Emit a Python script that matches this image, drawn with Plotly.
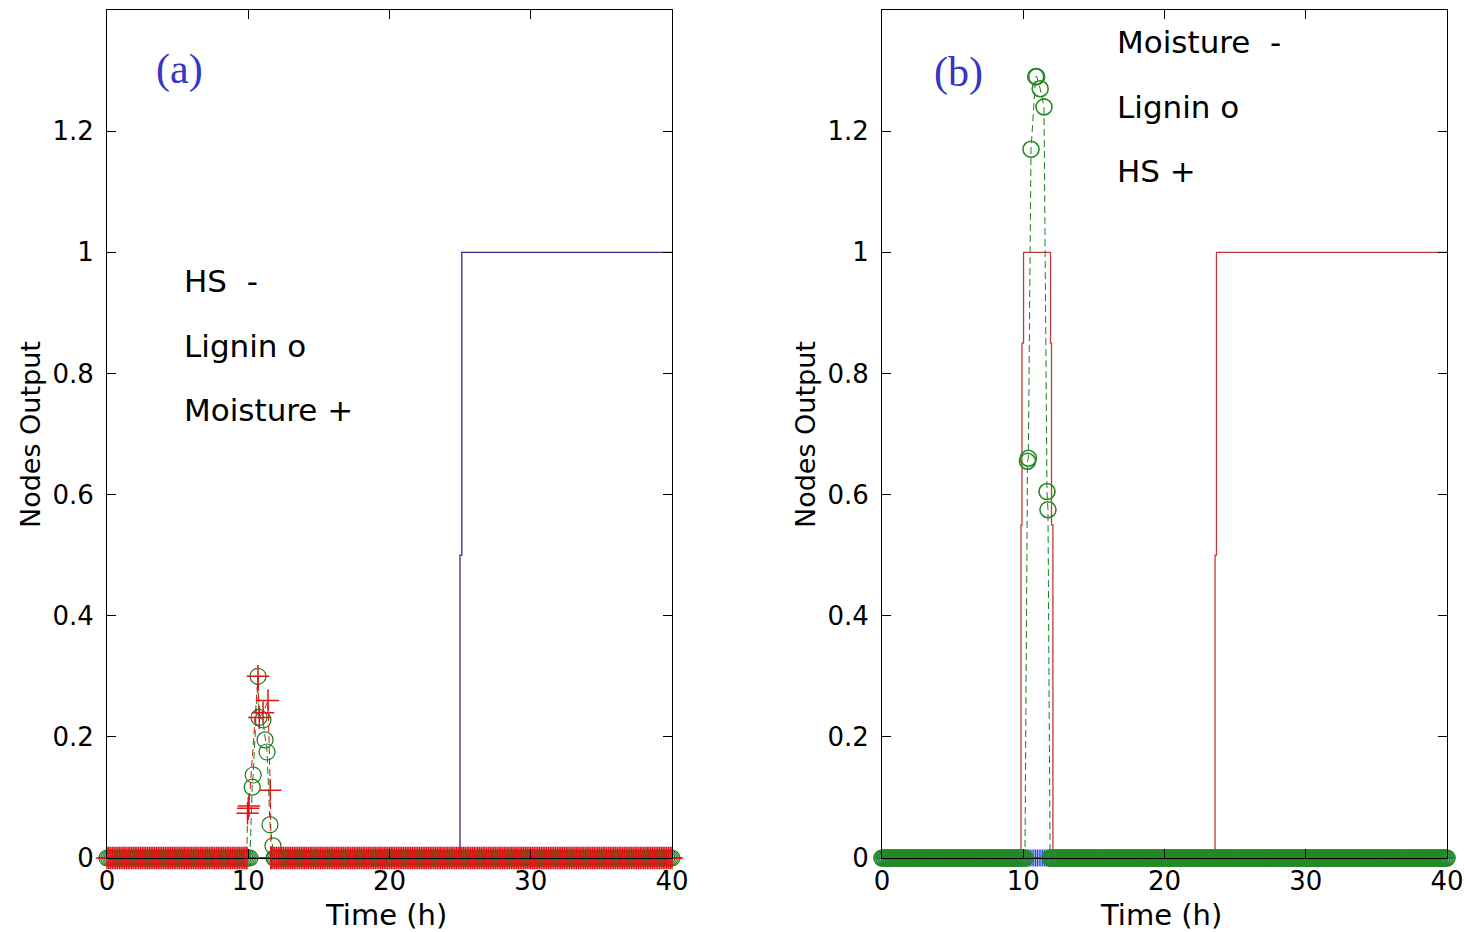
import numpy as np
import plotly.graph_objects as go

# ---------------- data ----------------
time_step = 0.125
t_end = 40.0
x_ticks = [0, 10, 20, 30, 40]
y_ticks = [0, 0.2, 0.4, 0.6, 0.8, 1.0, 1.2]
y_tick_text = ["0", "0.2", "0.4", "0.6", "0.8", "1", "1.2"]

# Panel (a)
a_hs_t = [0.0, 24.99, 24.99, 25.12, 25.12, 40.0]
a_hs_y = [0.0, 0.0, 0.5, 0.5, 1.0, 1.0]

a_lignin_peak_t = [10.0, 10.12, 10.28, 10.35, 10.69, 10.76, 11.04, 11.19, 11.33, 11.54, 11.75, 11.82]
a_lignin_peak_y = [0.0, 0.0, 0.117, 0.137, 0.30, 0.232, 0.228, 0.195, 0.175, 0.055, 0.02, 0.0]

a_moist_peak_t = [9.9, 9.95, 10.0, 10.05, 10.69, 10.78, 11.05, 11.4, 11.56, 11.6]
a_moist_peak_y = [0.0, 0.074, 0.082, 0.086, 0.30, 0.232, 0.24, 0.26, 0.112, 0.0]

# Panel (b)
b_moist_t = [0.0, 9.84, 9.84, 9.91, 9.91, 10.02, 10.02, 11.93, 11.93, 12.0, 12.0, 12.1, 12.1,
             23.58, 23.58, 23.68, 23.68, 40.0]
b_moist_y = [0.0, 0.0, 0.55, 0.55, 0.85, 0.85, 1.0, 1.0, 0.85, 0.85, 0.55, 0.55, 0.0,
             0.0, 0.5, 0.5, 1.0, 1.0]

b_lignin_peak_t = [10.0, 10.12, 10.3, 10.36, 10.55, 10.88, 10.95, 11.2, 11.47, 11.68, 11.75, 11.9]
b_lignin_peak_y = [0.0, 0.0, 0.655, 0.66, 1.17, 1.29, 1.29, 1.27, 1.24, 0.605, 0.575, 0.0]

# HS in (b) stays at zero for the whole run
b_hs_level = 0.0

# ---------------- build series ----------------
grid = np.round(np.arange(0.0, t_end + 1e-9, time_step), 4)


def with_peak(peak_t, peak_y, base_level=0.0):
    lo, hi = min(peak_t), max(peak_t)
    keep = (grid < lo) | (grid > hi)
    t = np.concatenate([grid[keep], np.array(peak_t)])
    y = np.concatenate([np.full(keep.sum(), base_level), np.array(peak_y)])
    order = np.argsort(t, kind="stable")
    return t[order], y[order]


a_lig_t, a_lig_y = with_peak(a_lignin_peak_t, a_lignin_peak_y)
a_moi_t, a_moi_y = with_peak(a_moist_peak_t, a_moist_peak_y)
b_lig_t, b_lig_y = with_peak(b_lignin_peak_t, b_lignin_peak_y)
b_hs_t = grid
b_hs_y = np.full(len(grid), b_hs_level)

# ---------------- styles ----------------
NAVY = "#2c2c8c"
RED = "#e01515"
RED_LINE = "#c23a3a"
GREEN = "#1e7d1e"
BLUE = "#1f3fe0"
FONT = "DejaVu Sans"
MS = 16

fig = go.Figure()

# panel (a)
fig.add_trace(go.Scatter(x=a_hs_t, y=a_hs_y, mode="lines", line=dict(color=NAVY, width=1.3),
                         xaxis="x", yaxis="y", showlegend=False))
fig.add_trace(go.Scatter(x=a_lig_t, y=a_lig_y, mode="lines+markers",
                         line=dict(color=GREEN, width=1, dash="7px,4px"),
                         marker=dict(symbol="circle-open", size=MS, color=GREEN, line=dict(width=1.2)),
                         cliponaxis=False, xaxis="x", yaxis="y", showlegend=False))
fig.add_trace(go.Scatter(x=a_moi_t, y=a_moi_y, mode="lines+markers",
                         line=dict(color=RED, width=1, dash="7px,4px"),
                         marker=dict(symbol="cross-thin-open", size=MS, color=RED, line=dict(width=1.5, color=RED)),
                         cliponaxis=False, xaxis="x", yaxis="y", showlegend=False))

# panel (b)
fig.add_trace(go.Scatter(x=b_hs_t, y=b_hs_y, mode="lines+markers",
                         line=dict(color=BLUE, width=1),
                         marker=dict(symbol="cross-thin-open", size=12, color=BLUE, line=dict(width=1.2, color=BLUE)),
                         cliponaxis=False, xaxis="x2", yaxis="y2", showlegend=False))
fig.add_trace(go.Scatter(x=b_moist_t, y=b_moist_y, mode="lines", line=dict(color=RED_LINE, width=1.3),
                         xaxis="x2", yaxis="y2", showlegend=False))
fig.add_trace(go.Scatter(x=b_lig_t, y=b_lig_y, mode="lines+markers",
                         line=dict(color=GREEN, width=1, dash="7px,4px"),
                         marker=dict(symbol="circle-open", size=MS, color="#248a24", line=dict(width=1.6)),
                         cliponaxis=False, xaxis="x2", yaxis="y2", showlegend=False))

W, H = 1466, 932
ydom = [1 - 858 / H, 1 - 10 / H]

axis_common = dict(showline=True, linecolor="black", linewidth=1, mirror="ticks",
                   ticks="inside", ticklen=9, tickcolor="black", showgrid=False, zeroline=False,
                   automargin=False,
                   tickfont=dict(family=FONT, size=26, color="black"))

fig.update_layout(
    width=W, height=H, margin=dict(l=0, r=0, t=0, b=0, autoexpand=False),
    paper_bgcolor="white", plot_bgcolor="white",
    xaxis=dict(domain=[107 / W, 672 / W], range=[0, 40], tickvals=x_ticks, anchor="y",
               ticklabelstandoff=0, **axis_common),
    yaxis=dict(domain=ydom, range=[0, 1.4], tickvals=y_ticks, ticktext=y_tick_text, anchor="x",
               ticklabelstandoff=7, **axis_common),
    xaxis2=dict(domain=[882 / W, 1447 / W], range=[0, 40], tickvals=x_ticks, anchor="y2",
                ticklabelstandoff=0, **axis_common),
    yaxis2=dict(domain=ydom, range=[0, 1.4], tickvals=y_ticks, ticktext=y_tick_text, anchor="x2",
                ticklabelstandoff=7, **axis_common),
)


def ann(text, x, y, size=31, family=FONT, color="black", xanchor="left", angle=0):
    fig.add_annotation(text=text, x=x / W, y=1 - y / H, xref="paper", yref="paper",
                       xanchor=xanchor, yanchor="middle", showarrow=False, textangle=angle,
                       font=dict(family=family, size=size, color=color))


# panel labels
ann("(a)", 179, 70, size=42, family="Liberation Serif", color="#3535c8", xanchor="center")
ann("(b)", 958, 72, size=42, family="Liberation Serif", color="#3535c8", xanchor="center")

# in-plot keys
ann("HS\u00a0 -", 182, 281)
ann("Lignin o", 182, 346)
ann("Moisture +", 182, 410)
ann("Moisture\u00a0 -", 1115, 42)
ann("Lignin o", 1115, 107)
ann("HS +", 1115, 171)

# axis titles
ann("Time (h)", 386, 915, size=29, xanchor="center")
ann("Time (h)", 1161, 915, size=29, xanchor="center")
ann("Nodes Output", 30, 435, size=27, xanchor="center", angle=-90)
ann("Nodes Output", 805, 435, size=27, xanchor="center", angle=-90)

fig.write_html("out.html", config={"displayModeBar": False},
               post_script="document.body.style.margin='0';document.body.style.overflow='hidden';")
